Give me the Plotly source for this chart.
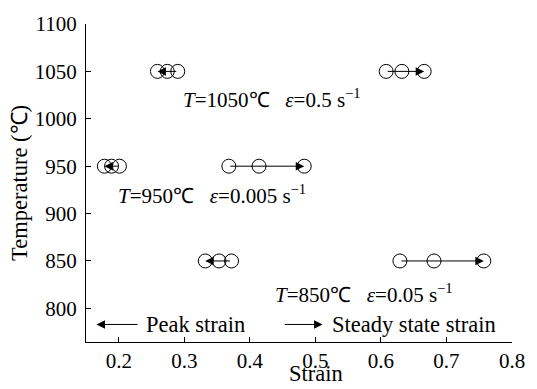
import plotly.graph_objects as go

temps = [1050, 950, 850]
peak_1050 = [0.259, 0.274, 0.290]
peak_950 = [0.178, 0.189, 0.201]
peak_850 = [0.332, 0.353, 0.372]
steady_1050 = [0.608, 0.632, 0.666]
steady_950 = [0.368, 0.414, 0.483]
steady_850 = [0.629, 0.681, 0.757]
labels = ["<i>T</i>=1050℃   <i>ε</i>=0.5 s<sup>−1</sup>",
          "<i>T</i>=950℃   <i>ε</i>=0.005 s<sup>−1</sup>",
          "<i>T</i>=850℃   <i>ε</i>=0.05 s<sup>−1</sup>"]
label_x = [0.295, 0.196, 0.435]
label_y = [1021, 920, 816]

peaks = [peak_1050, peak_950, peak_850]
steadys = [steady_1050, steady_950, steady_850]

FONT = "Liberation Serif, Times New Roman, serif"
fig = go.Figure()
annotations = []


def arrow(x_from, x_to, y):
    annotations.append(dict(x=x_to, y=y, ax=x_from, ay=y, xref="x", yref="y",
                            axref="x", ayref="y", showarrow=True, arrowhead=2,
                            arrowsize=1.7, arrowwidth=1, arrowcolor="black", text=""))


for T, pk, st in zip(temps, peaks, steadys):
    for arr in (pk, st):
        fig.add_trace(go.Scatter(x=arr, y=[T] * len(arr), mode="markers",
                                 marker=dict(symbol="circle-open", size=14,
                                             color="black", line=dict(width=1)),
                                 showlegend=False, hoverinfo="skip"))
    arrow(max(pk), min(pk), T)
    arrow(min(st), max(st), T)

arrow(0.231, 0.166, 783)
arrow(0.451, 0.511, 783)

for t, lx, ly in zip(labels, label_x, label_y):
    annotations.append(dict(x=lx, y=ly, xref="x", yref="y", text=t, showarrow=False,
                            xanchor="left", yanchor="middle",
                            font=dict(family=FONT, size=21, color="black")))

annotations.append(dict(x=0.238, y=783, xref="x", yref="y", text="Peak strain",
                        showarrow=False, xanchor="left", yanchor="middle",
                        font=dict(family=FONT, size=22.5, color="black")))
annotations.append(dict(x=0.522, y=783, xref="x", yref="y", text="Steady state strain",
                        showarrow=False, xanchor="left", yanchor="middle",
                        font=dict(family=FONT, size=22.5, color="black")))
annotations.append(dict(x=0.541, y=-0.146, xref="paper", yref="paper", text="Strain",
                        showarrow=False, xanchor="center", yanchor="bottom",
                        font=dict(family=FONT, size=22.5, color="black")))

fig.update_layout(
    width=537, height=389, margin=dict(l=86, r=17, t=21, b=47),
    plot_bgcolor="white", paper_bgcolor="white",
    font=dict(family=FONT, size=21, color="black"),
    annotations=annotations,
    xaxis=dict(range=[0.15, 0.8], tickvals=[0.2, 0.3, 0.4, 0.5, 0.6, 0.7, 0.8],
               ticktext=["0.2", "0.3", "0.4", "0.5", "0.6", "0.7", "0.8"],
               ticks="inside", ticklen=5, tickcolor="black", showline=True,
               linecolor="black", linewidth=1, showgrid=False, zeroline=False,
               tickfont=dict(size=21), ticklabelstandoff=0),
    yaxis=dict(range=[764.5, 1100], tickvals=[800, 850, 900, 950, 1000, 1050, 1100],
               ticks="inside", ticklen=5, tickcolor="black", showline=True,
               linecolor="black", linewidth=1, showgrid=False, zeroline=False,
               tickfont=dict(size=21), ticklabelstandoff=4,
               title=dict(text="Temperature (℃)", standoff=0, font=dict(size=22.5))),
)
fig.write_html("out.html")
